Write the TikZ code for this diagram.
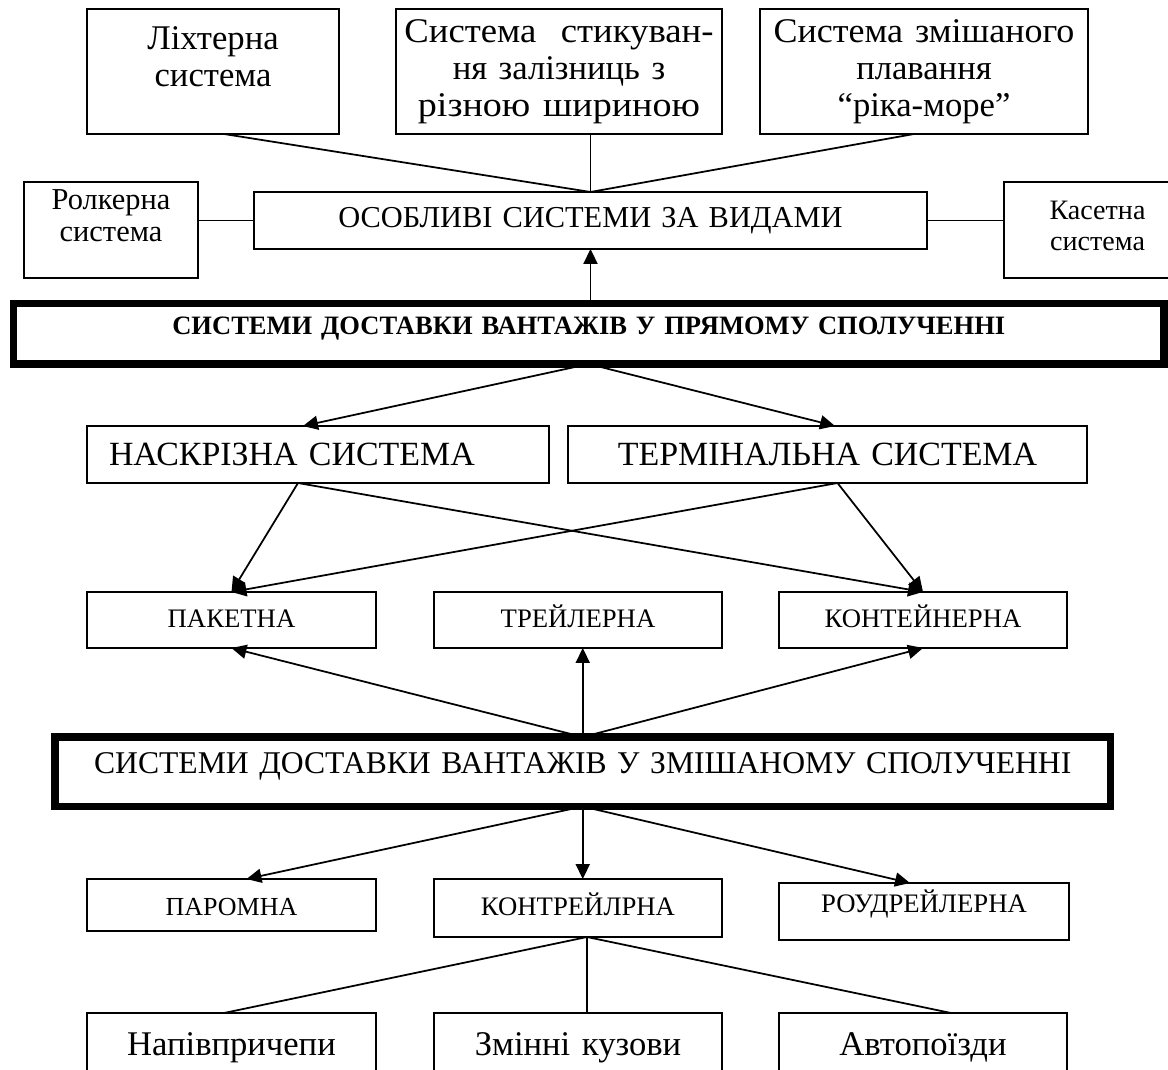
\documentclass[tikz,border=0pt]{standalone}
\usepackage{fontspec}
\usepackage{graphicx}
\setmainfont{Liberation Serif}
\usetikzlibrary{arrows.meta}

\tikzset{
  blk/.style={draw, line width=1pt, inner sep=0pt, outer sep=0pt, anchor=north west, align=center},
  heavy/.style={blk, line width=4.2pt},
  toptxt/.style={font=\fontsize{19.7}{21}\selectfont},
  bigtxt/.style={font=\fontsize{19.3}{21}\selectfont},
  smalltxt/.style={font=\fontsize{15.2}{17.6}\selectfont},
}

\begin{document}
\begin{tikzpicture}[>={Triangle[length=8.5pt, width=8pt]}, line width=1pt]
        \useasboundingbox (0, 0) rectangle (23.36, -21.4);

        % top row
        \node[blk, toptxt, text width=5.04cm, text height=0.82cm, text depth=1.68cm] (lix) at (1.74, -0.18) {Ліхтерна\\система};
        \node[blk, toptxt, text width=6.52cm, text height=0.68cm, text depth=1.82cm] (stik) at (7.92, -0.18)
            {\scalebox{1.06}[1]{Система \ стикуван-}\\ня залізниць з\\\scalebox{1.1}[1]{різною шириною}};
        \node[blk, toptxt, text width=6.56cm, text height=0.68cm, text depth=1.82cm] (zmish) at (15.20, -0.18)
            {\scalebox{1.04}[1]{Система змішаного}\\плавання\\“ріка-море”};

        \node[blk, font=\fontsize{17.3}{18.2}\selectfont, text width=3.48cm, text height=0.56cm, text depth=1.36cm] (rolk) at (0.48, -3.64) {Ролкерна\\система};
        \node[blk, font=\fontsize{17.3}{19.5}\selectfont, text width=13.46cm, text height=0.72cm, text depth=0.42cm] (osob) at (5.08, -3.84) {ОСОБЛИВІ СИСТЕМИ ЗА ВИДАМИ};
        \node[blk, font=\fontsize{16}{17.1}\selectfont, text width=3.74cm, text height=0.76cm, text depth=1.16cm] (kaset) at (20.08, -3.64) {Касетна\\система};

        \node[heavy, font=\fontsize{15.1}{17}\selectfont\bfseries, text width=23.01cm, text height=0.63cm, text depth=0.58cm] (pryam) at (0.27, -6.07) {СИСТЕМИ ДОСТАВКИ ВАНТАЖІВ У ПРЯМОМУ СПОЛУЧЕННІ};

        \node[blk, bigtxt, align=left, inner xsep=0.44cm, text width=8.36cm, text height=0.78cm, text depth=0.36cm] (naskr) at (1.74, -8.52) {НАСКРІЗНА СИСТЕМА};
        \node[blk, bigtxt, text width=10.38cm, text height=0.78cm, text depth=0.36cm] (term) at (11.36, -8.52) {ТЕРМІНАЛЬНА СИСТЕМА};

        \node[blk, smalltxt, text width=5.78cm, text height=0.70cm, text depth=0.42cm] (pak) at (1.74, -11.84) {ПАКЕТНА};
        \node[blk, smalltxt, text width=5.76cm, text height=0.70cm, text depth=0.42cm] (trail) at (8.68, -11.84) {ТРЕЙЛЕРНА};
        \node[blk, smalltxt, text width=5.76cm, text height=0.70cm, text depth=0.42cm] (kont) at (15.58, -11.84) {КОНТЕЙНЕРНА};

        \node[heavy, font=\fontsize{18.0}{20}\selectfont, text width=21.11cm, text height=0.72cm, text depth=0.67cm] (zmbox) at (1.10, -14.74) {СИСТЕМИ ДОСТАВКИ ВАНТАЖІВ У ЗМІШАНОМУ СПОЛУЧЕННІ};

        \node[blk, font=\fontsize{14.8}{17}\selectfont, text width=5.78cm, text height=0.72cm, text depth=0.32cm] (parom) at (1.74, -17.58) {ПАРОМНА};
        \node[blk, smalltxt, text width=5.76cm, text height=0.72cm, text depth=0.44cm] (kontr) at (8.68, -17.58) {КОНТРЕЙЛРНА};
        \node[blk, smalltxt, text width=5.80cm, text height=0.58cm, text depth=0.56cm] (roud) at (15.58, -17.66) {РОУДРЕЙЛЕРНА};

        \node[blk, toptxt, text width=5.78cm, text height=0.84cm, text depth=0.56cm] (napiv) at (1.74, -20.26) {Напівпричепи};
        \node[blk, toptxt, text width=5.76cm, text height=0.84cm, text depth=0.56cm] (zminni) at (8.68, -20.26) {Змінні кузови};
        \node[blk, toptxt, text width=5.76cm, text height=0.84cm, text depth=0.56cm] (avto) at (15.58, -20.26) {Автопоїзди};

        % connectors
        \draw ([xshift=0.22cm]lix.south) -- (osob.north);
        \draw (stik.south -| osob.north) -- (osob.north);
        \draw ([xshift=-0.2cm]zmish.south) -- (osob.north);
        \draw (rolk.east |- osob.west) -- (osob.west);
        \draw (osob.east) -- (kaset.west |- osob.east);
        \draw[->] (pryam.north -| osob.south) -- (osob.south);

        \draw[->] (pryam.south) -- ([xshift=-0.3cm]naskr.north);
        \draw[->] (pryam.south) -- ([xshift=0.15cm]term.north);
        \draw[->] ([xshift=-0.4cm]naskr.south) -- (pak.north);
        \draw[->] ([xshift=-0.4cm]naskr.south) -- (kont.north);
        \draw[->] ([xshift=0.2cm]term.south) -- (pak.north);
        \draw[->] ([xshift=0.2cm]term.south) -- (kont.north);

        \draw[->] (zmbox.north) -- (pak.south);
        \draw[->] (zmbox.north) -- (trail.south -| zmbox.north);
        \draw[->] (zmbox.north) -- (kont.south);

        \draw[->] (zmbox.south) -- ([xshift=0.3cm]parom.north);
        \draw[->] (zmbox.south) -- (kontr.north -| zmbox.south);
        \draw[->] (zmbox.south) -- ([xshift=-0.28cm]roud.north);

        \coordinate (kb) at ([xshift=0.18cm]kontr.south);
        \draw (kb) -- ([xshift=-0.15cm]napiv.north);
        \draw (kb) -- (zminni.north -| kb);
        \draw (kb) -- ([xshift=0.56cm]avto.north);
    \end{tikzpicture}
\end{document}
